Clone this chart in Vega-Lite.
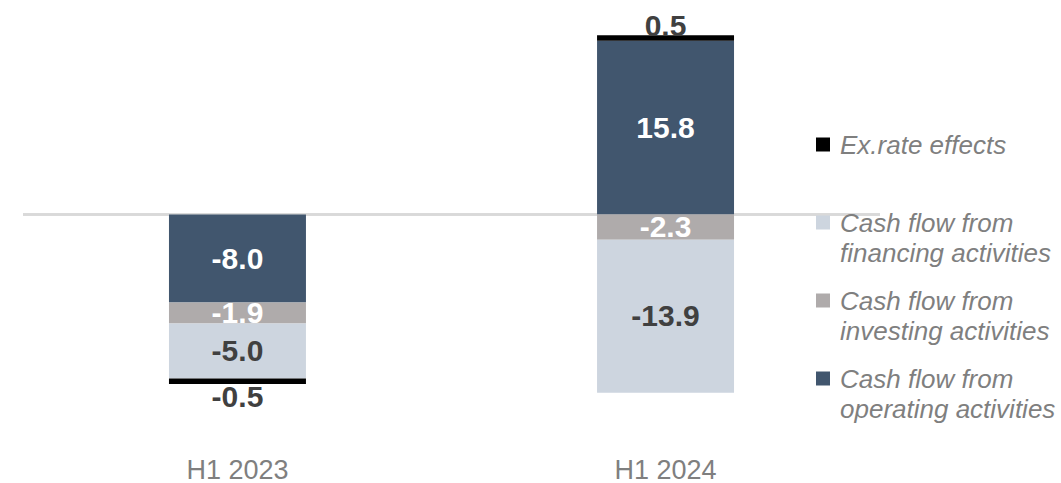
{
  "$schema": "https://vega.github.io/schema/vega-lite/v6.json",
  "width": 857,
  "height": 412.5,
  "autosize": "none",
  "padding": {"left": 23, "top": 0, "right": 181, "bottom": 70.5},
  "config": {
    "view": {"stroke": null},
    "font": "Liberation Sans",
    "locale": {"number": {"decimal": ".", "thousands": ",", "grouping": [3], "currency": ["$", ""], "minus": "-"}}
  },
  "data": {
    "values": [
      {"period": "H1 2023", "flow": "Cash flow from operating activities", "value": -8.0, "ord": 1},
      {"period": "H1 2023", "flow": "Cash flow from investing activities", "value": -1.9, "ord": 2},
      {"period": "H1 2023", "flow": "Cash flow from financing activities", "value": -5.0, "ord": 3},
      {"period": "H1 2023", "flow": "Ex.rate effects", "value": -0.5, "ord": 4},
      {"period": "H1 2024", "flow": "Cash flow from operating activities", "value": 15.8, "ord": 1},
      {"period": "H1 2024", "flow": "Cash flow from investing activities", "value": -2.3, "ord": 2},
      {"period": "H1 2024", "flow": "Cash flow from financing activities", "value": -13.9, "ord": 3},
      {"period": "H1 2024", "flow": "Ex.rate effects", "value": 0.5, "ord": 4}
    ]
  },
  "transform": [
    {"stack": "value", "groupby": ["period"], "sort": [{"field": "ord", "order": "ascending"}], "as": ["v0", "v1"], "offset": "zero"},
    {"calculate": "(datum.v0 + datum.v1) / 2", "as": "mid"}
  ],
  "layer": [
    {
      "mark": {"type": "rule", "color": "#d9d9d9", "strokeWidth": 2},
      "encoding": {"y": {"datum": 0, "type": "quantitative"}}
    },
    {
      "encoding": {
        "x": {
          "field": "period", "type": "nominal",
          "scale": {"paddingInner": 0.68, "paddingOuter": 0.341},
          "axis": {"title": null, "labelAngle": 0, "domain": false, "ticks": false, "labelPadding": 45, "labelFontSize": 27, "labelColor": "#7f7f7f", "labelFont": "Liberation Sans", "labelBaseline": "top"}
        }
      },
      "layer": [
        {
          "mark": {"type": "bar"},
          "encoding": {
            "y": {"field": "v0", "type": "quantitative", "stack": null, "scale": {"domain": [-18, 19.5], "nice": false, "zero": false}, "axis": null},
            "y2": {"field": "v1"},
            "color": {
              "field": "flow", "type": "nominal",
              "scale": {
                "domain": ["Ex.rate effects", "Cash flow from financing activities", "Cash flow from investing activities", "Cash flow from operating activities"],
                "range": ["#000000", "#cdd5df", "#afabab", "#41566e"]
              },
              "legend": {
                "orient": "none", "legendX": 787, "legendY": 131.5, "title": null,
                "symbolType": "square", "symbolSize": 196, "symbolStrokeWidth": 0,
                "labelFontSize": 26, "labelFontStyle": "italic", "labelColor": "#7f7f7f", "labelFont": "Liberation Sans",
                "labelLimit": 400, "labelOffset": 4, "labelBaseline": "top", "rowPadding": 21,
                "labelExpr": "datum.label == 'Ex.rate effects' ? ['Ex.rate effects', ''] : [slice(datum.label, 0, 14), slice(datum.label, 15)]",
                "encode": {"labels": {"update": {"lineHeight": {"value": 30}, "dy": {"value": -12}}}}
              }
            }
          }
        },
        {
          "transform": [{"filter": "datum.flow != 'Ex.rate effects'"}],
          "mark": {"type": "text", "fontSize": 30, "fontWeight": "bold", "baseline": "middle", "dy": 1, "font": "Liberation Sans"},
          "encoding": {
            "y": {"field": "mid", "type": "quantitative", "stack": null},
            "text": {"field": "value", "type": "quantitative", "format": ".1f"},
            "color": {"condition": {"test": "datum.flow == 'Cash flow from financing activities'", "value": "#404040"}, "value": "#ffffff"}
          }
        },
        {
          "transform": [{"filter": "datum.flow == 'Ex.rate effects' && datum.value < 0"}],
          "mark": {"type": "text", "fontSize": 30, "fontWeight": "bold", "baseline": "top", "dy": -1, "color": "#404040", "font": "Liberation Sans"},
          "encoding": {
            "y": {"field": "v1", "type": "quantitative", "stack": null},
            "text": {"field": "value", "type": "quantitative", "format": ".1f"}
          }
        },
        {
          "transform": [{"filter": "datum.flow == 'Ex.rate effects' && datum.value > 0"}],
          "mark": {"type": "text", "fontSize": 30, "fontWeight": "bold", "baseline": "alphabetic", "dy": 1, "color": "#404040", "font": "Liberation Sans"},
          "encoding": {
            "y": {"field": "v1", "type": "quantitative", "stack": null},
            "text": {"field": "value", "type": "quantitative", "format": ".1f"}
          }
        }
      ]
    }
  ]
}
